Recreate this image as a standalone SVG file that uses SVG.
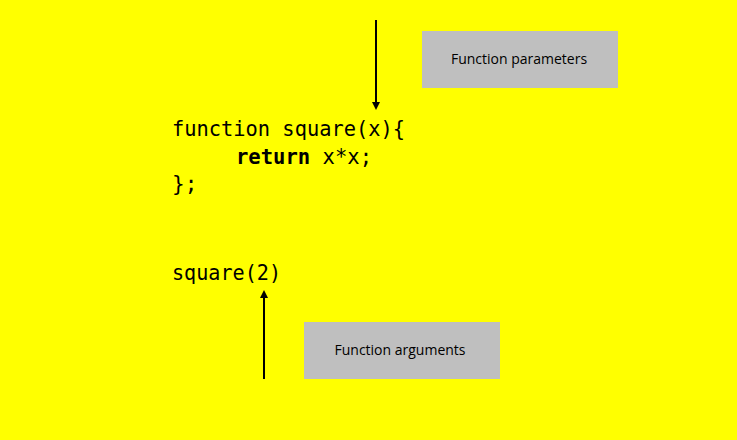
<svg xmlns="http://www.w3.org/2000/svg" width="737" height="440" viewBox="0 0 737 440">
<style>
.code{font-family:"DejaVu Sans Mono","Liberation Mono",monospace;font-size:21px;fill:#000}
.b{font-weight:bold}
.box{fill:#bfbfbf}
.lbl{font-family:"Open Sans","Liberation Sans",sans-serif;font-size:14px;fill:#000;text-anchor:middle}
.conn{stroke:#000;stroke-width:2;fill:none}
</style>
<defs>
<marker id="ah" markerWidth="8" markerHeight="8" refX="4" refY="4" orient="auto" markerUnits="userSpaceOnUse">
<path d="M0,0 L8,4 L0,8 Z" fill="#000"/>
</marker>
</defs>
<rect width="737" height="440" fill="#ffff00"/>
<g id="code">
<text class="code" x="172" y="136" textLength="233" lengthAdjust="spacingAndGlyphs">function square(x){</text>
<text class="code" x="236" y="164" textLength="136" lengthAdjust="spacingAndGlyphs"><tspan class="b">return</tspan> x*x;</text>
<text class="code" x="172" y="191">};</text>
<text class="code" x="172" y="280" textLength="109" lengthAdjust="spacingAndGlyphs">square(2)</text>
</g>
<g id="params">
<rect class="box" x="422" y="31" width="196" height="57"/>
<text class="lbl" x="519" y="64">Function parameters</text>
</g>
<g id="args">
<rect class="box" x="304" y="322" width="196" height="57"/>
<text class="lbl" x="400" y="355">Function arguments</text>
</g>
<g id="connectors">
<line class="conn" x1="376" y1="20" x2="376" y2="106" marker-end="url(#ah)"/>
<line class="conn" x1="264" y1="379" x2="264" y2="294" marker-end="url(#ah)"/>
</g>
</svg>
